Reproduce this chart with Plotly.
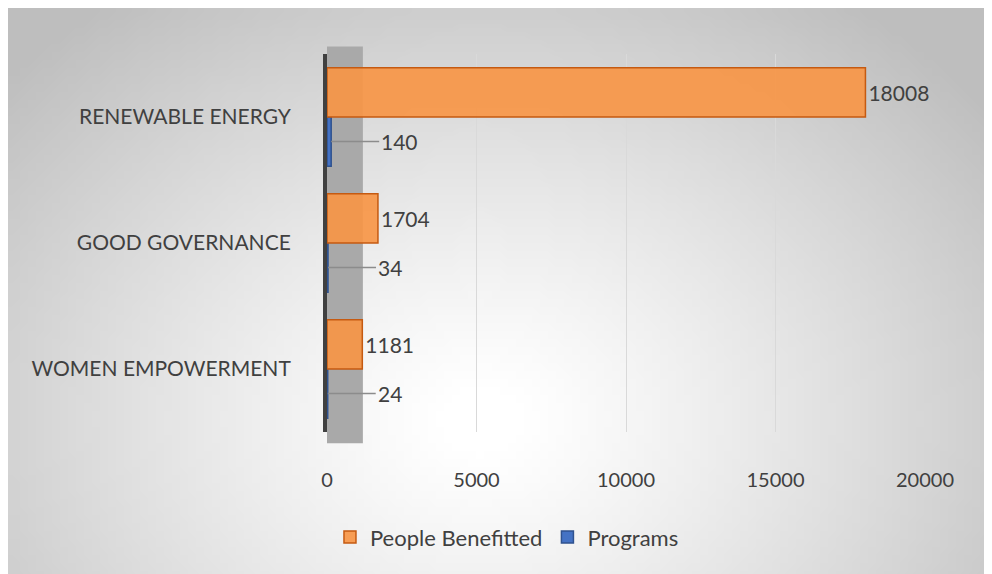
import base64, struct, zlib, math
import plotly.graph_objects as go

# ---- data ----
categories = ["WOMEN EMPOWERMENT", "GOOD GOVERNANCE", "RENEWABLE ENERGY"]
people_benefitted = [1181, 1704, 18008]
programs = [24, 34, 140]
x_ticks = [0, 5000, 10000, 15000, 20000]

W, H = 992, 574
L, R, T, B = 319, 75, 46, 150
PW, PH = W - L - R, H - T - B
BARGAP = 0.22
FONT = "Lato"
TXT = "#404040"

# ---- radial gradient background as small PNG ----
def make_png(w, h):
    cx, cy, rx, ry = 470 / 8, 410 / 8, 600 / 8, 480 / 8
    rows = []
    for j in range(h):
        row = bytearray([0])
        for i in range(w):
            d = math.hypot((i - cx) / rx, (j - cy) / ry)
            v = int(max(190, min(255, 258 - 62 * d ** 1.2)))
            row.append(v)
        rows.append(bytes(row))
    raw = b"".join(rows)
    def chunk(t, d):
        c = struct.pack(">I", len(d)) + t + d
        return c + struct.pack(">I", zlib.crc32(t + d) & 0xffffffff)
    png = b"\x89PNG\r\n\x1a\n" + chunk(b"IHDR", struct.pack(">IIBBBBB", w, h, 8, 0, 0, 0, 0))
    png += chunk(b"IDAT", zlib.compress(raw, 9)) + chunk(b"IEND", b"")
    return "data:image/png;base64," + base64.b64encode(png).decode()

bg = make_png(124, 72)

fig = go.Figure()
fig.add_trace(go.Bar(
    y=categories, x=programs, orientation="h", name="Programs",
    marker=dict(color="#4472c4", line=dict(color="#2f528f", width=1.5)),
))
fig.add_trace(go.Bar(
    y=categories, x=people_benefitted, orientation="h", name="People Benefitted",
    marker=dict(color="rgba(247,150,70,0.92)", line=dict(color="#c55a11", width=1.5)),
    text=[str(v) for v in people_benefitted], textposition="outside",
    textfont=dict(family=FONT, size=21, color=TXT), cliponaxis=False,
))

# leader-line labels for Programs
band = PH / len(categories)
offset = band * (1 - BARGAP) / 4
for c, v in zip(categories, programs):
    fig.add_annotation(
        x=v, y=c, yshift=-offset, text=str(v), showarrow=True, arrowhead=0,
        arrowwidth=1.5, arrowcolor="#8c8c8c", ax=48, ay=0, xanchor="left",
        font=dict(family=FONT, size=21, color=TXT),
    )

# side wall
fig.add_shape(type="rect", xref="x", yref="paper", x0=0, x1=1200, y0=-0.03, y1=1.02,
              fillcolor="#a9a9a9", line=dict(width=0), layer="below")

fig.add_layout_image(dict(
    source=bg, xref="paper", yref="paper",
    x=-L / PW, y=1 + T / PH, sizex=W / PW, sizey=H / PH,
    xanchor="left", yanchor="top", sizing="stretch", layer="below",
))

fig.update_layout(
    width=W, height=H, margin=dict(l=L, r=R, t=T, b=B),
    paper_bgcolor="white", plot_bgcolor="rgba(0,0,0,0)",
    barmode="group", bargap=BARGAP, bargroupgap=0,
    font=dict(family=FONT, size=20, color=TXT),
    showlegend=True,
    legend=dict(orientation="h", traceorder="reversed", xref="container", yref="container",
                x=0.503, y=0.078, xanchor="center", yanchor="middle",
                font=dict(family=FONT, size=22, color=TXT), bgcolor="rgba(0,0,0,0)",
                itemwidth=30),
)
fig.update_xaxes(range=[0, 20000], tickvals=x_ticks, ticktext=[str(t) for t in x_ticks],
                 showgrid=True, gridcolor="#d9d9d9", gridwidth=1.2, zeroline=False,
                 ticks="outside", ticklen=30, tickcolor="rgba(0,0,0,0)",
                 tickfont=dict(family=FONT, size=20, color=TXT))
fig.update_yaxes(categoryorder="array", categoryarray=categories,
                 showline=True, linecolor="#404040", linewidth=4,
                 ticks="outside", ticklen=28, tickcolor="rgba(0,0,0,0)",
                 tickfont=dict(family=FONT, size=21, color=TXT), showgrid=False)

fig.write_html("out.html")
